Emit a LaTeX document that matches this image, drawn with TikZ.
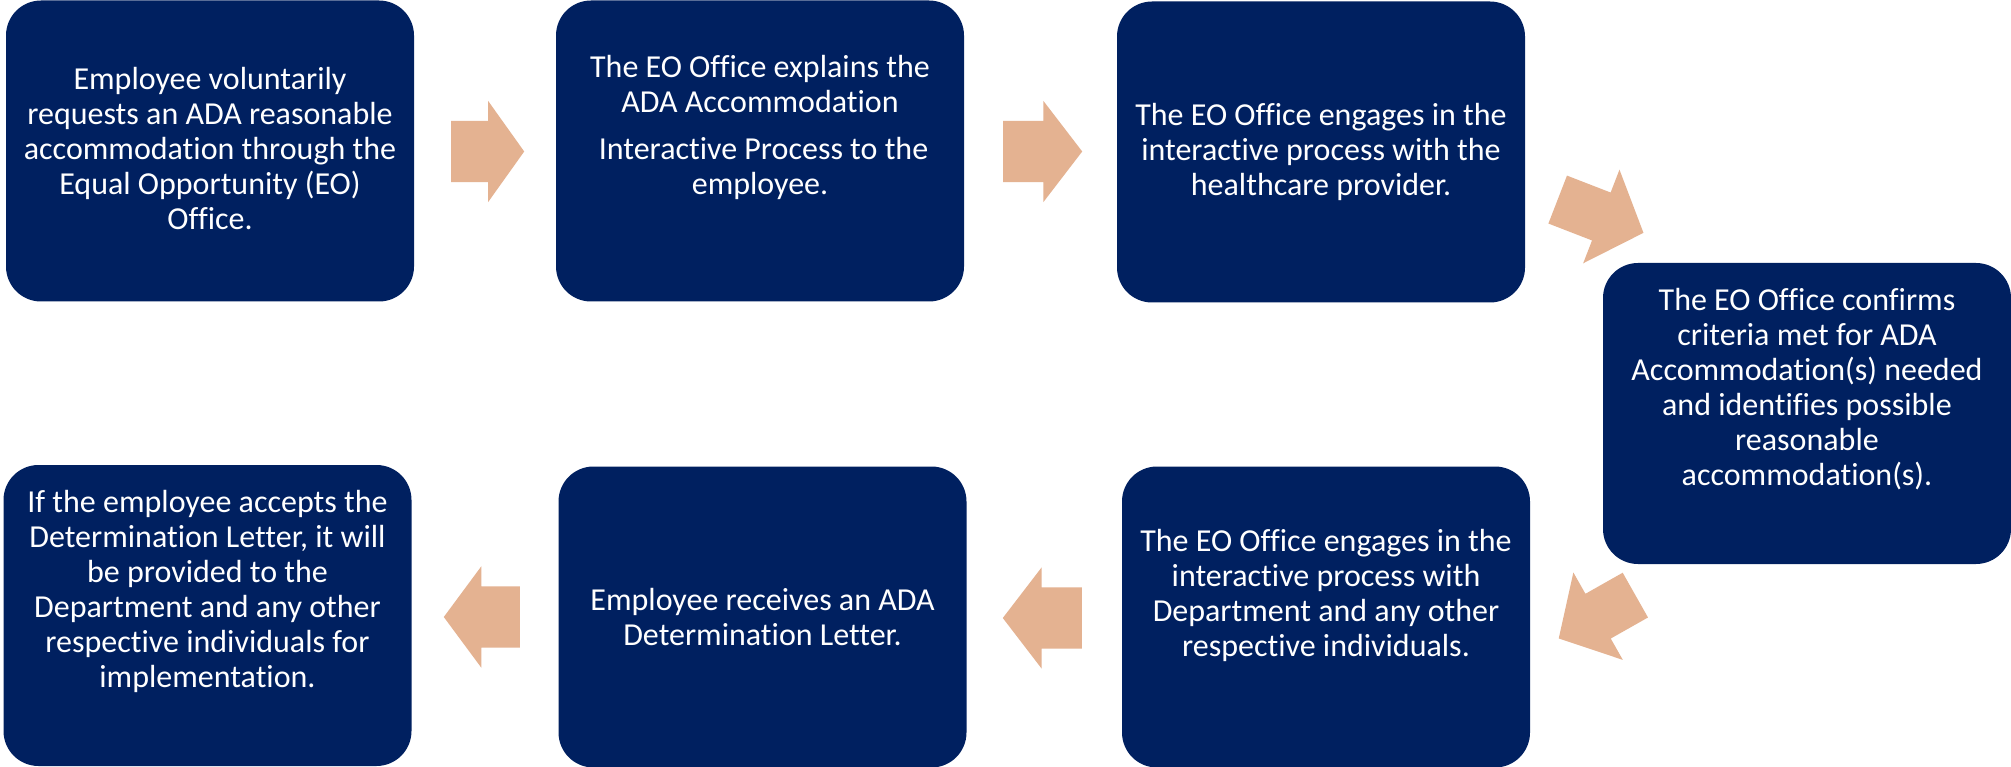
\documentclass[tikz,border=0pt]{standalone}
\usepackage{fontspec}
\setmainfont{Carlito}[RawFeature = {-liga}]
\usetikzlibrary{shapes.arrows}
\definecolor{eonavy}{RGB}{0,32,96}
\definecolor{eopeach}{RGB}{228,178,145}
\begin{document}
\begin{tikzpicture}[x = 1pt, y = -1pt,
	box/.style = {fill = eonavy, rounded corners = 35pt, minimum width = 408pt, minimum height = 301pt, inner sep = 0pt},
	txt/.style = {text = white, align = center, font = \fontsize{32}{35}\selectfont, inner sep = 0pt},
	flatarrow/.style = {single arrow, fill = eopeach, anchor = tail, inner xsep = 0pt, inner ysep = 30.5pt, single arrow head extend = 20pt},
	slantarrow/.style = {single arrow, fill = eopeach, anchor = tail, inner xsep = 0pt, inner ysep = 25.5pt, single arrow head extend = 24.5pt, single arrow tip angle = 96}]
	\useasboundingbox[fill = white] (0, 0) rectangle (2011, 767);
	\node[box] (b1) at (210, 151) {};
	\node[box] (b2) at (760, 151) {};
	\node[box] (b3) at (1321, 152) {};
	\node[box] (b4) at (1807, 413.5) {};
	\node[box] (b5) at (1326, 617) {};
	\node[box] (b6) at (762.5, 617) {};
	\node[box] (b7) at (207.5, 615.5) {};
	\node[txt] (t1) at ([yshift = 2pt]b1.center) {Employee voluntarily\\requests an ADA reasonable\\accommodation through the\\Equal Opportunity (EO)\\Office.};
	\node[txt] (t2) at ([yshift = 24pt]b2.center) {The EO Office explains the\\ADA Accommodation\\[12pt]\hspace*{7pt}Interactive Process to the\\employee.};
	\node[txt] (t3) at (b3.center) {The EO Office engages in the\\interactive process with the\\healthcare provider.};
	\node[txt] (t4) at ([yshift = 24pt]b4.center) {The EO Office confirms\\criteria met for ADA\\Accommodation(s) needed\\and identifies possible\\reasonable\\accommodation(s).};
	\node[txt] (t5) at ([yshift = 22pt]b5.center) {The EO Office engages in the\\interactive process with\\Department and any other\\respective individuals.};
	\node[txt] (t6) at (b6.center) {Employee receives an ADA\\Determination Letter.};
	\node[txt] (t7) at ([yshift = 24pt]b7.center) {If the employee accepts the\\Determination Letter, it will\\be provided to the\\Department and any other\\respective individuals for\\implementation.};
	\node[flatarrow, minimum height = 73pt, single arrow tip angle = 109] (a12) at (451, 151.5) {};
	\node[flatarrow, minimum height = 79pt, single arrow tip angle = 105] (a23) at (1003, 151.5) {};
	\node[slantarrow, minimum height = 92pt, rotate = -21.2] (a34) at (1557.5, 199.5) {};
	\node[slantarrow, minimum height = 88pt, rotate = -150.5] (a45) at (1635.5, 595) {};
	\node[flatarrow, minimum height = 79pt, single arrow tip angle = 105, rotate = 180] (a56) at (1082, 618) {};
	\node[flatarrow, minimum height = 76pt, single arrow tip angle = 107, rotate = 180] (a67) at (520, 617) {};
\end{tikzpicture}
\end{document}
